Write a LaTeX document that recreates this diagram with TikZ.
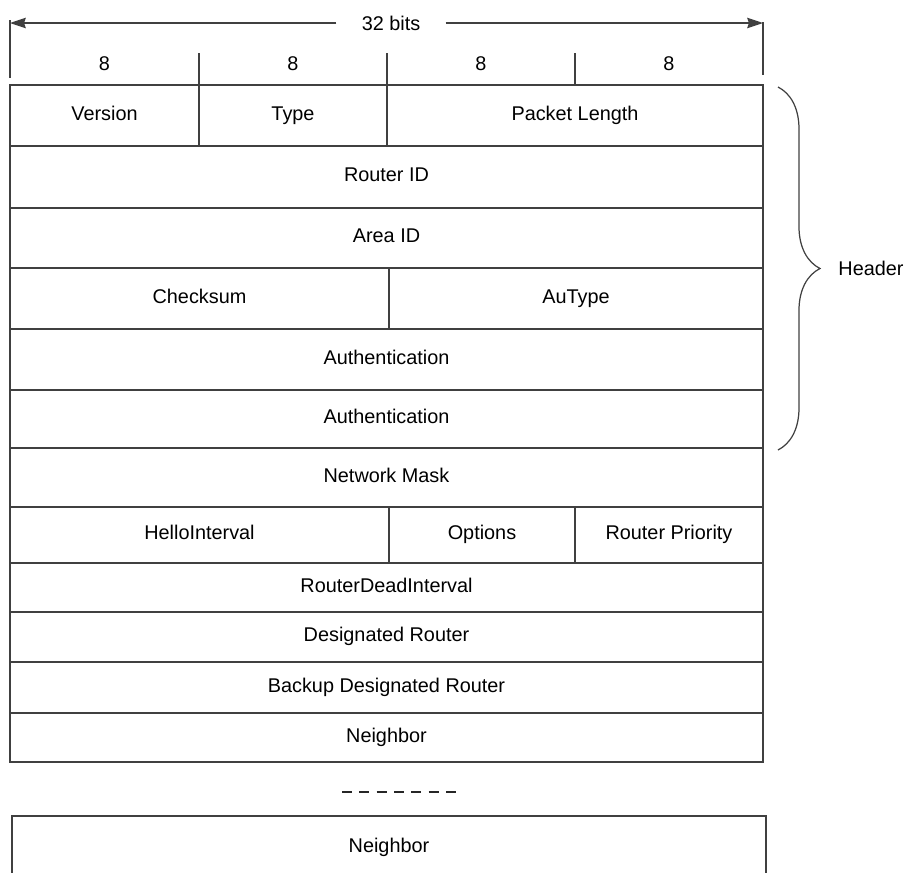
\documentclass[tikz,border=0pt]{standalone}
\usepackage{fontspec}
\setmainfont{Liberation Sans}
\usetikzlibrary{arrows.meta,decorations.pathreplacing,positioning}

\tikzset{
  field/.style 2 args={draw=black!75,line width=0.7pt,
    minimum width=#1,minimum height=#2,inner sep=0pt,
    text height=0.72em,text depth=0.2em},
  rule/.style={draw=black!75,line width=0.7pt}
}

\begin{document}
\begin{tikzpicture}[x=0.02cm,y=-0.02cm,font=\fontsize{11.3}{13}\selectfont]
  \useasboundingbox (0,0) rectangle (914,873);
  % width arrow
  \coordinate (bl) at (10,23);
  \coordinate (br) at (763,23);
  \node[inner xsep=0.5cm] (bits) at (391,23) {32 bits};
  \draw[rule,-{Stealth[length=9pt,width=6pt,inset=1pt]}] (bits) -- (bl);
  \draw[rule,-{Stealth[length=9pt,width=6pt,inset=1pt]}] (bits) -- (br);
  \draw[rule] (10,20) -- (10,78);
  \draw[rule] (763,22) -- (763,75);
  % octets
  \foreach \x [count=\n] in {104.5,293,481,669}
    \node (oct\n) at (\x,64) {8};
  \foreach \x in {199,387,575}
    \draw[rule] (\x,53) -- (\x,85);
  % header
  \node[field={3.78cm}{1.22cm}] (ver) at (104.5,115.5) {Version};
  \node[field={3.76cm}{1.22cm}] (typ) at (293,115.5) {Type};
  \node[field={7.52cm}{1.22cm}] (len) at (575,115.5) {Packet Length};
  \node[field={15.06cm}{1.24cm}] (rid) at (386.5,177) {Router ID};
  \node[field={15.06cm}{1.2cm}] (aid) at (386.5,238) {Area ID};
  \node[field={7.58cm}{1.22cm}] (chk) at (199.5,298.5) {Checksum};
  \node[field={7.48cm}{1.22cm}] (aut) at (576,298.5) {AuType};
  \node[field={15.06cm}{1.22cm}] (auth1) at (386.5,359.5) {Authentication};
  \node[field={15.06cm}{1.16cm}] (auth2) at (386.5,419) {Authentication};
  % hello body
  \node[field={15.06cm}{1.18cm}] (mask) at (386.5,477.5) {Network Mask};
  \node[field={7.58cm}{1.12cm}] (hello) at (199.5,535) {HelloInterval};
  \node[field={3.72cm}{1.12cm}] (opt) at (482,535) {Options};
  \node[field={3.76cm}{1.12cm}] (prio) at (669,535) {Router Priority};
  \node[field={15.06cm}{0.98cm}] (dead) at (386.5,587.5) {RouterDeadInterval};
  \node[field={15.06cm}{1cm}] (dr) at (386.5,637) {Designated Router};
  \node[field={15.06cm}{1.02cm}] (bdr) at (386.5,687.5) {Backup Designated Router};
  \node[field={15.06cm}{0.98cm}] (nb1) at (386.5,737.5) {Neighbor};
  \draw[line width=1.6pt,black!85,dash pattern=on 0.2cm off 0.147cm] (342,792) -- (456,792);
  \draw[rule] (12,880) -- (12,816) -- (766,816) -- (766,880);
  \node[text height=0.72em,text depth=0.2em] (nb2) at (389,848) {Neighbor};
  % brace
  \draw[rule,decorate,decoration={brace,amplitude=0.84cm}] (778,87) -- (778,450);
  \node (hdr) at (871,268) {Header};
\end{tikzpicture}
\end{document}
